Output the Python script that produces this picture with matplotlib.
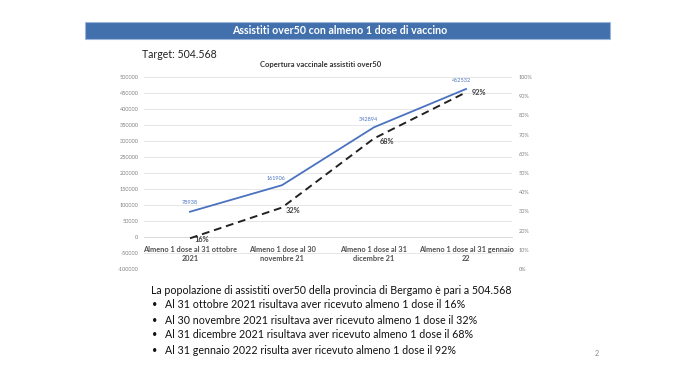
import matplotlib
matplotlib.use("Agg")
import matplotlib.pyplot as plt
from matplotlib.patches import Rectangle
from matplotlib.ticker import FuncFormatter, MultipleLocator

# ---- data ----
categories = ["Almeno 1 dose al 31 ottobre\n2021",
              "Almeno 1 dose al 30\nnovembre 21",
              "Almeno 1 dose al 31\ndicembre 21",
              "Almeno 1 dose al 31 gennaio\n22"]
vaccinated = [78938, 161906, 342894, 462532]
target = [504568, 504568, 504568, 504568]
coverage = [0.16, 0.32, 0.68, 0.92]
coverage_labels = ["16%", "32%", "68%", "92%"]
header = "Assistiti over50 con almeno 1 dose di vaccino"
target_text = "Target: 504.568"
chart_title = "Copertura vaccinale assistiti over50"
body_lines = ["La popolazione di assistiti over50 della provincia di Bergamo è pari a 504.568",
              "Al 31 ottobre 2021 risultava aver ricevuto almeno 1 dose il 16%",
              "Al 30 novembre 2021 risultava aver ricevuto almeno 1 dose il 32%",
              "Al 31 dicembre 2021 risultava aver ricevuto almeno 1 dose il 68%",
              "Al 31 gennaio 2022 risulta aver ricevuto almeno 1 dose il 92%"]
page_number = "2"

plt.rcParams['font.family'] = ['Lato', 'DejaVu Sans']

W, H = 680, 370
fig = plt.figure(figsize=(W / 100, H / 100), dpi=100)

def fx(x):
    return x / W

def fy(y):
    return 1 - y / H

# header bar
fig.patches.append(Rectangle((fx(85), fy(39)), fx(610) - fx(85), fy(22) - fy(39),
                             transform=fig.transFigure, facecolor='#4170AD',
                             edgecolor='#9DB7DA', linewidth=0.8))
fig.text(fx(340), fy(30.5), header, color='white', fontsize=7.7, fontweight='bold',
         ha='center', va='center')
fig.text(fx(142), fy(55), target_text, color='#222222', fontsize=7.6, ha='left', va='center')
fig.text(fx(321), fy(64), chart_title, color='#333333', fontsize=5.5, fontweight='bold',
         ha='center', va='center')

# chart axes
ax = fig.add_axes([fx(144), fy(269), fx(512) - fx(144), fy(77) - fy(269)])
x = list(range(len(categories)))
ax.set_xlim(-0.5, len(categories) - 0.5)
ax.set_ylim(-100000, 500000)
ax.yaxis.set_major_locator(MultipleLocator(50000))
ax.yaxis.set_major_formatter(FuncFormatter(lambda v, p: f"{int(round(v))}"))
ax.grid(axis='y', color='#E3E3E3', linewidth=0.6)
ax.set_axisbelow(True)
for s in ['top', 'right', 'left']:
    ax.spines[s].set_visible(False)
ax.spines['bottom'].set_position(('data', 0))
ax.spines['bottom'].set_color('#D9D9D9')
ax.spines['bottom'].set_linewidth(0.6)
ax.tick_params(axis='y', length=0, labelsize=4, labelcolor='#808080', pad=4)
ax.tick_params(axis='x', length=0, labelsize=5.3, labelcolor='#505050', pad=6.5)
ax.set_xticks(x)
ax.set_xticklabels(categories, fontweight='bold', linespacing=1.3)

ax.plot(x, target, color='#ED7D31', linewidth=1.2, zorder=3)
ax.annotate(f"{target[0]}", (x[0], target[0]), xytext=(-4, 0), textcoords='offset points',
            ha='right', va='center', fontsize=4.5, color='#ED7D31')
ax.plot(x, vaccinated, color='#4A72C0', linewidth=1.3, zorder=4)
offs = [(0, 5), (-4, 3), (-4, 4), (-3, 4)]
for xi, v, o in zip(x, vaccinated, offs):
    ax.annotate(f"{v}", (xi, v), xytext=o, textcoords='offset points',
                ha='center', va='bottom', fontsize=4, color='#4A72C0')

ax2 = ax.twinx()
ax2.set_ylim(0, 1)
ax2.yaxis.set_major_locator(MultipleLocator(0.1))
ax2.yaxis.set_major_formatter(FuncFormatter(lambda v, p: f"{int(round(v * 100))}%"))
for s in ax2.spines.values():
    s.set_visible(False)
ax2.tick_params(axis='y', length=0, labelsize=4, labelcolor='#808080', pad=5)
ax2.plot(x, coverage, color='#222222', linewidth=1.4, linestyle=(0, (4, 2.5)), zorder=5)
poffs = [(3, -1), (3, -2), (4.5, -2.5), (4, 0)]
for xi, c, lab, o in zip(x, coverage, coverage_labels, poffs):
    ax2.annotate(lab, (xi, c), xytext=o, textcoords='offset points',
                 ha='left', va='center', fontsize=5.3, fontweight='bold', color='#404040')

# body text
ys = [290, 305, 320, 335, 350]
fs = 7.7
fig.text(fx(151), fy(ys[0]), body_lines[0], fontsize=fs, color='#111111',
         ha='left', va='center')
for yy, line in zip(ys[1:], body_lines[1:]):
    fig.text(fx(152), fy(yy), "•", fontsize=6.5, color='#111111', ha='left', va='center')
    fig.text(fx(165), fy(yy), line, fontsize=fs, color='#111111', ha='left', va='center')

fig.text(fx(597), fy(353), page_number, fontsize=5, color='#8A8A8A', ha='center', va='center')

fig.savefig("out.png", dpi=100)
